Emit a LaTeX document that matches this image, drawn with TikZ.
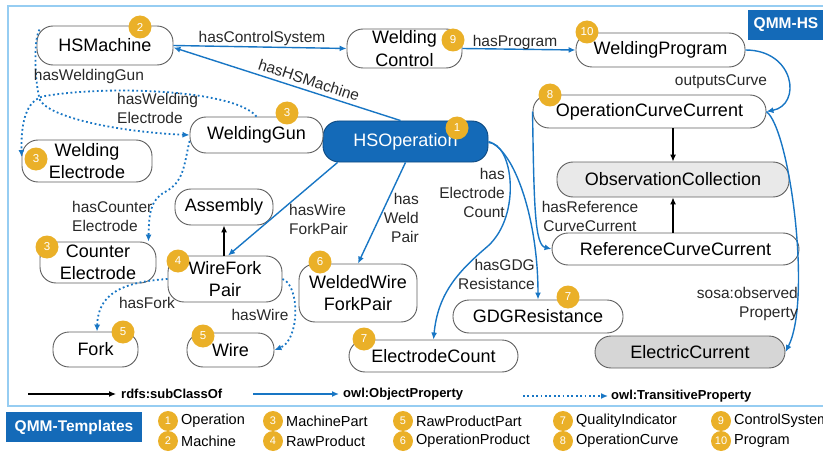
\documentclass[tikz,border=0pt]{standalone}
\usepackage{fontspec}
\setmainfont{Liberation Sans}
\usetikzlibrary{arrows.meta,calc}
\definecolor{edgeC}{RGB}{24,118,196}
\definecolor{opC}{RGB}{20,106,184}
\definecolor{badgeC}{RGB}{234,176,40}
\definecolor{frameC}{RGB}{150,205,242}
\definecolor{ndline}{RGB}{95,95,95}
\definecolor{obsC}{RGB}{233,233,233}
\definecolor{ecC}{RGB}{214,214,214}
\definecolor{lblC}{RGB}{40,40,40}
\tikzset{
  nd/.style={draw=ndline, line width=0.9pt, rounded corners=16pt, fill=white,
    align=center, inner sep=0pt, text=black,
    font=\fontsize{18}{22.5}\selectfont},
  badge/.style={circle, fill=badgeC, text=white, inner sep=0pt,
    minimum size=23pt, font=\fontsize{11.5}{11.5}\selectfont},
  lbadge/.style={circle, fill=badgeC, text=white, inner sep=0pt,
    minimum size=20pt, font=\fontsize{11}{11}\selectfont},
  lbl/.style={font=\fontsize{15.5}{19}\selectfont, text=lblC, inner sep=0pt},
  legtxt/.style={font=\fontsize{13}{13}\selectfont\bfseries, text=black, inner sep=0pt, anchor=west},
  legitem/.style={font=\fontsize{14.5}{14.5}\selectfont, text=black, inner sep=0pt, anchor=west},
  tip/.style={-{Latex[length=7pt,width=6pt]}},
  obj/.style={draw=edgeC, line width=1.4pt, tip},
  trans/.style={draw=edgeC, line width=1.8pt, dash pattern=on 1.8pt off 2.6pt, tip},
  subcl/.style={draw=black, line width=1.2pt, tip},
  tag/.style={fill=opC, text=white, inner sep=0pt,
    font=\fontsize{15.5}{15.5}\selectfont\bfseries}
}
\begin{document}
\begin{tikzpicture}[x=1pt,y=-1pt]
\useasboundingbox (0,0) rectangle (823,452);

% outer frame of the ontology module
\draw[frameC, line width=2pt] (8,6) rectangle (840,406);
\node[tag, minimum width=76pt, minimum height=30pt] (qhs) at (786,25) {QMM-HS};

% classes
\node[nd, minimum width=136pt, minimum height=39pt] (hsm) at (105,45.5) {HSMachine};
\node[nd, minimum width=115pt, minimum height=39pt] (wc) at (404.5,48.5) {Welding\\Control};
\node[nd, minimum width=169pt, minimum height=34pt] (wp) at (660.5,50) {WeldingProgram};
\node[nd, minimum width=233pt, minimum height=33pt] (occ) at (649.5,111.5) {OperationCurveCurrent};
\node[nd, fill=obsC, minimum width=232pt, minimum height=35pt] (obs) at (673,179.5) {ObservationCollection};
\node[nd, minimum width=247pt, minimum height=32pt] (rcc) at (675.5,249) {ReferenceCurveCurrent};
\node[nd, minimum width=170pt, minimum height=33pt] (gdg) at (538,316.5) {GDGResistance};
\node[nd, fill=ecC, minimum width=190pt, minimum height=32pt] (ec) at (690,352) {ElectricCurrent};
\node[nd, minimum width=169pt, minimum height=32pt] (edc) at (433.5,356) {ElectrodeCount};
\node[nd, minimum width=118pt, minimum height=58pt] (wwfp) at (358,293) {WeldedWire\\ForkPair};
\node[nd, fill=opC, draw=opC!70!black, text=white, minimum width=165pt, minimum height=41pt] (hso) at (405.5,141.5) {HSOperation};
\node[nd, minimum width=133pt, minimum height=36pt] (wg) at (256.5,135) {WeldingGun};
\node[nd, minimum width=130pt, minimum height=42pt] (we) at (87,161) {Welding\\Electrode};
\node[nd, minimum width=98pt, minimum height=36pt] (asm) at (224,207) {Assembly};
\node[nd, minimum width=116pt, minimum height=41pt] (ce) at (98,262.5) {Counter\\Electrode};
\node[nd, minimum width=114pt, minimum height=46pt] (wfp) at (225,279) {WireFork\\Pair};
\node[nd, minimum width=85pt, minimum height=35pt] (fork) at (95.5,349.5) {Fork};
\node[nd, minimum width=87pt, minimum height=34pt] (wire) at (230.5,350) {Wire};

% object properties
\draw[obj] (hsm.east) -- (wc.west);
\node[lbl] (lcs) at (262,38) {hasControlSystem};
\draw[obj] ([xshift=-5pt]hso.north) -- ([yshift=-2pt]hsm.east);
\node[lbl, rotate=-18] (lhm) at (309,80) {hasHSMachine};
\draw[obj] (wc.east) -- (wp.west);
\node[lbl] (lpr) at (515,42) {hasProgram};
\draw[obj] (wp.east) .. controls (795,50) and (802,105) .. (occ.east);
\node[lbl] (loc) at (721,82) {outputsCurve};
\draw[obj] (occ.east) .. controls (790,130) and (812,300) .. (ec.east);
\node[lbl, align=right, anchor=east] (lop) at (798,303.5) {sosa:observed\\Property};
\draw[obj] (occ.west) .. controls (534,210) and (535,245) .. (rcc.west);
\node[lbl, align=center] (lrc) at (590,216) {hasReference\\CurveCurrent};
\draw[obj] ([yshift=-1pt]hso.east) .. controls (513,143) and (522,215) .. (488,246)
  .. controls (460,270) and (438,292) .. (edc.north);
\node[lbl, align=right, anchor=east] (lec) at (505,192.5) {has\\Electrode\\Count};
\draw[obj] (hso.east) .. controls (515,150) and (538,220) .. (gdg.north);
\node[lbl, align=right, anchor=east] (lgd) at (535,274) {hasGDG\\Resistance};
\draw[obj] ([xshift=15pt]hso.south west) -- ([xshift=3pt]wfp.north);
\node[lbl, align=left, anchor=west] (lwf) at (289,219) {hasWire\\ForkPair};
\draw[obj] (hso.south) -- (wwfp.north);
\node[lbl, align=right, anchor=east] (lwp) at (419,218) {has\\Weld\\Pair};

% subclass relations
\draw[subcl] (obs.north |- occ.south) -- (obs.north);
\draw[subcl] (obs.south |- rcc.north) -- (obs.south);
\draw[subcl] (asm.south |- wfp.north) -- (asm.south);

% transitive properties
\draw[trans] ([shift={(3pt,-4pt)}]hsm.north west) .. controls (33,40) and (35,85) .. (40,100)
  .. controls (50,118) and (120,132) .. (wg.west);
\node[lbl] (lwg) at (89,76) {hasWeldingGun};
\draw[trans] (wg.north) .. controls (235,90) and (110,85) .. (45,96)
  .. controls (25,99.5) and (21,125) .. ([yshift=4pt]we.west);
\node[lbl, align=left, anchor=west] (lwe) at (117,108.5) {hasWelding\\Electrode};
\draw[trans] ([yshift=-6pt]wg.west) .. controls (184,165) and (184,182) .. (165,192)
  .. controls (150,200) and (149,215) .. ([xshift=-8pt]ce.north east);
\node[lbl, align=left, anchor=west] (lce) at (72,216) {hasCounter\\Electrode};
\draw[trans] (wfp.west) .. controls (120,282) and (98,295) .. ([xshift=1.5pt]fork.north);
\node[lbl] (lfk) at (147,303) {hasFork};
\draw[trans] (wfp.east) .. controls (300,285) and (300,340) .. (wire.east);
\node[lbl] (lwr) at (260,315) {hasWire};

% category badges
\node[badge] (b2) at (140,27) {2};
\node[badge] (b9) at (453,40) {9};
\node[badge] (b10) at (587,32) {10};
\node[badge] (b8) at (550,95) {8};
\node[badge] (b7a) at (568,297) {7};
\node[badge] (b7b) at (364,339) {7};
\node[badge] (b6) at (320,262) {6};
\node[badge] (b1) at (457,128) {1};
\node[badge] (b3a) at (287,113) {3};
\node[badge] (b3b) at (36,159) {3};
\node[badge] (b3c) at (47,247) {3};
\node[badge] (b4) at (178,261) {4};
\node[badge] (b5a) at (123,332) {5};
\node[badge] (b5b) at (203,336) {5};

% legend of edge types
\coordinate (sA) at (28,394); \coordinate (sB) at (116,394);
\draw[subcl] (sA) -- (sB);
\node[legtxt] (sT) at (121,394) {rdfs:subClassOf};
\coordinate (oA) at (253,394); \coordinate (oB) at (339,394);
\draw[obj] (oA) -- (oB);
\node[legtxt] (oT) at (343,394) {owl:ObjectProperty};
\coordinate (tA) at (523,396); \coordinate (tB) at (608,396);
\draw[trans] (tA) -- (tB);
\node[legtxt] (tT) at (611,396) {owl:TransitiveProperty};

% legend of categories
\node[tag, minimum width=136pt, minimum height=30pt] (qtp) at (74,427) {QMM-Templates};
\foreach \n/\x/\y/\t in {1/168/421/Operation, 2/168/441/Machine,
    3/273/421/MachinePart, 4/273/441/RawProduct,
    5/403/421/RawProductPart, 6/403/441/OperationProduct,
    7/563/421/QualityIndicator, 8/563/441/OperationCurve,
    9/721/421/ControlSystem, 10/721/441/Program}{
  \node[lbadge] (lb\n) at (\x,\y) {\n};
  \node[legitem] (lt\n) at (\x+13,\y) {\t};
}
\end{tikzpicture}
\end{document}
